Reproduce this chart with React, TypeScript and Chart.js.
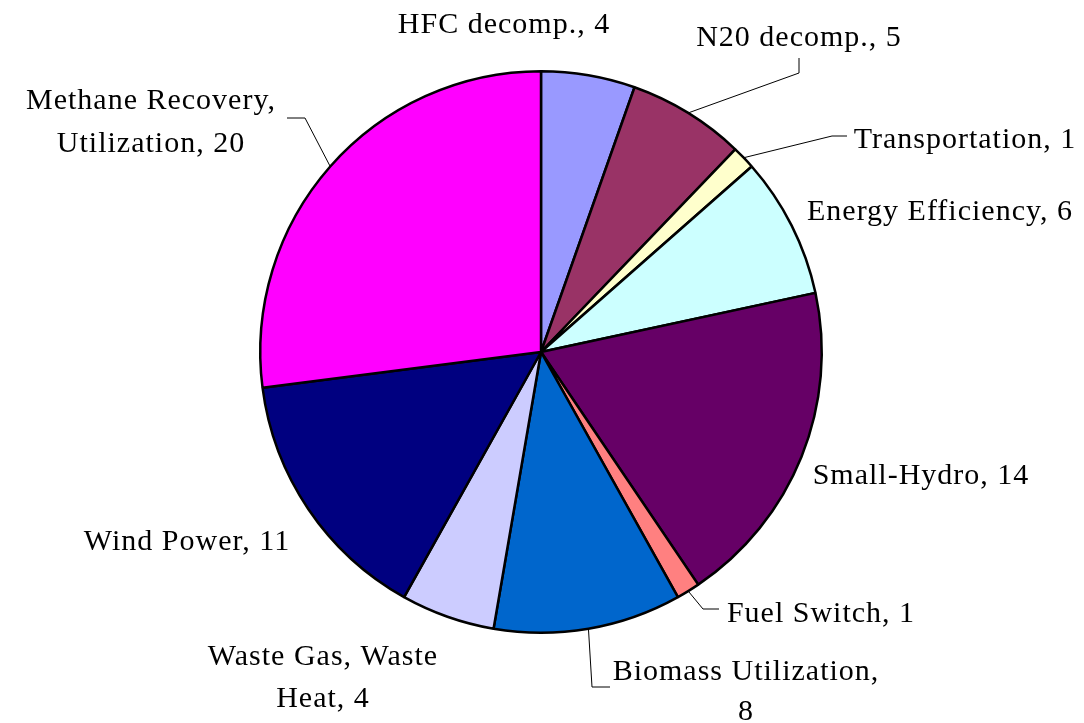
import React, { useEffect, useRef } from "react";
import { Chart, registerables } from "chart.js";

Chart.register(...registerables);

const categories = [
  "HFC decomp.",
  "N20 decomp.",
  "Transportation",
  "Energy Efficiency",
  "Small-Hydro",
  "Fuel Switch",
  "Biomass Utilization",
  "Waste Gas, Waste Heat",
  "Wind Power",
  "Methane Recovery, Utilization",
];
const values = [4, 5, 1, 6, 14, 1, 8, 4, 11, 20];
const colors = [
  "#9999FF",
  "#993366",
  "#FFFFCC",
  "#CCFFFF",
  "#660066",
  "#FF8080",
  "#0066CC",
  "#CCCCFF",
  "#000080",
  "#FF00FF",
];

// Label text lines (how each category label wraps)
const labelLines: string[][] = [
  [`HFC decomp., ${values[0]}`],
  [`N20 decomp., ${values[1]}`],
  [`Transportation, ${values[2]}`],
  [`Energy Efficiency, ${values[3]}`],
  [`Small-Hydro, ${values[4]}`],
  [`Fuel Switch, ${values[5]}`],
  ["Biomass Utilization,", `${values[6]}`],
  ["Waste Gas, Waste", `Heat, ${values[7]}`],
  [`Wind Power, ${values[8]}`],
  ["Methane Recovery,", `Utilization, ${values[9]}`],
];

// Label layout: text centre x and baselines, plus leader elbow points
type LabelLayout = { cx: number; baselines: number[]; leader?: [number, number][] };
const labelLayout: LabelLayout[] = [
  { cx: 504, baselines: [33] },
  { cx: 799, baselines: [46], leader: [[799, 73], [799, 58]] },
  { cx: 965, baselines: [148], leader: [[832, 136], [847, 136]] },
  { cx: 940, baselines: [220] },
  { cx: 921, baselines: [484] },
  { cx: 821, baselines: [622], leader: [[703, 609], [719, 609]] },
  { cx: 746, baselines: [680, 720], leader: [[592, 687], [610, 687]] },
  { cx: 323, baselines: [665, 707] },
  { cx: 187, baselines: [550] },
  { cx: 151, baselines: [109, 152], leader: [[305, 118], [287, 118]] },
];

const labelPlugin = {
  id: "pieLabels",
  afterDraw(chart: any) {
    const ctx = chart.ctx as CanvasRenderingContext2D;
    const meta = chart.getDatasetMeta(0);
    ctx.save();
    meta.data.forEach((arc: any, i: number) => {
      const lay = labelLayout[i];
      if (!lay) return;
      const p = arc.getProps(["x", "y", "startAngle", "endAngle", "outerRadius"], true);
      const mid = (p.startAngle + p.endAngle) / 2;
      if (lay.leader) {
        const sx = p.x + Math.cos(mid) * p.outerRadius;
        const sy = p.y + Math.sin(mid) * p.outerRadius;
        ctx.beginPath();
        ctx.strokeStyle = "#000";
        ctx.lineWidth = 1;
        ctx.moveTo(sx, sy);
        lay.leader.forEach(([lx, ly]) => ctx.lineTo(lx, ly));
        ctx.stroke();
      }
      ctx.fillStyle = "#000";
      ctx.font = '30px "Liberation Serif"';
      (ctx as any).letterSpacing = "1px";
      ctx.textAlign = "center";
      ctx.textBaseline = "alphabetic";
      labelLines[i].forEach((line, j) => {
        ctx.fillText(line, lay.cx, lay.baselines[j]);
      });
    });
    ctx.restore();
  },
};

export default function App() {
  const ref = useRef<HTMLCanvasElement | null>(null);
  useEffect(() => {
    if (!ref.current) return;
    const chart = new Chart(ref.current, {
      type: "pie",
      data: {
        labels: categories,
        datasets: [
          {
            data: values,
            backgroundColor: colors,
            borderColor: "#000000",
            borderWidth: 2.5,
          },
        ],
      },
      options: {
        responsive: false,
        animation: false,
        layout: { padding: { left: 259, right: 261, top: 70, bottom: 89 } },
        plugins: {
          legend: { display: false },
          tooltip: { enabled: false },
        },
      },
      plugins: [labelPlugin],
    });
    return () => chart.destroy();
  }, []);
  return (
    <div style={{ position: "fixed", left: 0, top: 0, width: 1084, height: 723, background: "#fff" }}>
      <canvas ref={ref} width={1084} height={723} style={{ width: 1084, height: 723 }} />
    </div>
  );
}
